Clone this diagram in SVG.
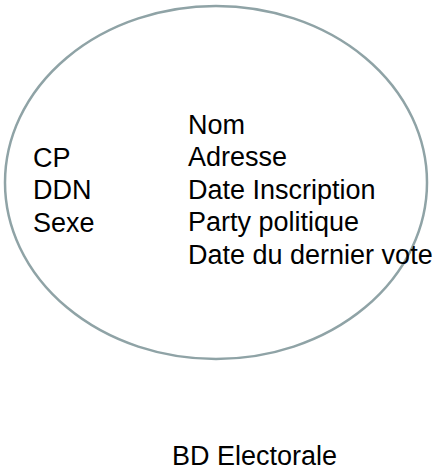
<svg xmlns="http://www.w3.org/2000/svg" width="439" height="470" viewBox="0 0 439 470">
<style>
.t{font-family:"Liberation Sans",Arial,sans-serif;font-size:27px;fill:#000}
</style>
<rect width="439" height="470" fill="#fff"/>
<g id="bd-electorale">
<ellipse cx="216" cy="182.5" rx="211" ry="176.5" fill="none" stroke="#8FA3A6" stroke-width="2.5"/>
<text class="t" x="188" y="134">Nom</text>
<text class="t" x="188" y="166">Adresse</text>
<text class="t" x="188" y="199">Date Inscription</text>
<text class="t" x="188" y="231">Party politique</text>
<text class="t" x="188" y="264">Date du dernier vote</text>
<text class="t" x="33" y="167">CP</text>
<text class="t" x="33" y="199">DDN</text>
<text class="t" x="33" y="232">Sexe</text>
<text class="t" x="172" y="465">BD Electorale</text>
</g>
</svg>
